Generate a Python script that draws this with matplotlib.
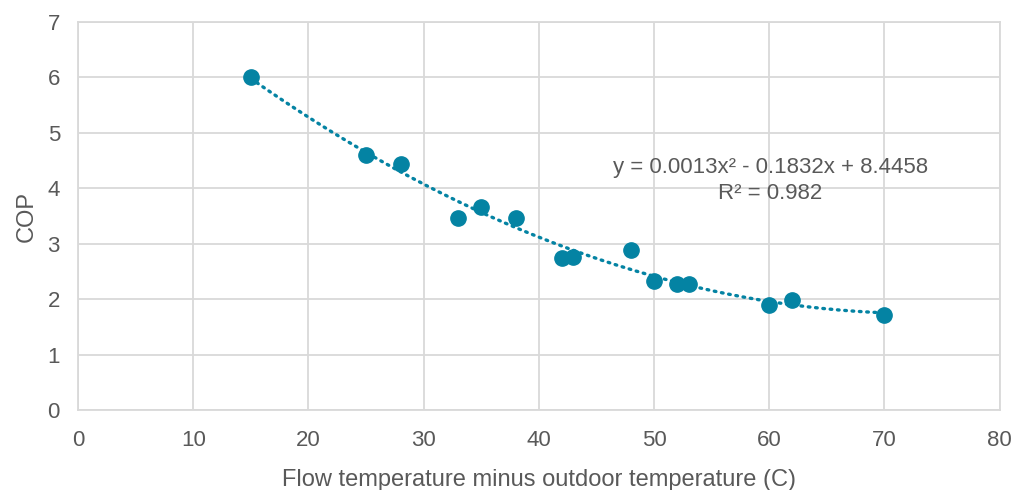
import numpy as np
import matplotlib
matplotlib.use("Agg")
import matplotlib.pyplot as plt

plt.rcParams['font.family'] = ['Liberation Sans', 'DejaVu Sans']

# temperature difference (C) vs measured COP
delta_t = [15, 25, 28, 33, 35, 38, 42, 43, 48, 50, 52, 53, 60, 62, 70]
cop = [6.0, 4.61, 4.44, 3.47, 3.67, 3.47, 2.74, 2.77, 2.88, 2.33, 2.27, 2.27, 1.90, 1.99, 1.71]

eq_text = "y = 0.0013x² - 0.1832x + 8.4458"
r2_text = "R² = 0.982"

TEAL = '#0483A3'
GRID = '#d9d9d9'
TEXT = '#595959'

fig = plt.figure(figsize=(10.16, 4.9), dpi=100)
ax = fig.add_axes([0.0768, 0.163, 0.907, 0.792])

# quadratic trendline through the points
coef = np.polyfit(delta_t, cop, 2)
xs = np.linspace(min(delta_t), max(delta_t), 200)
ax.plot(xs, np.polyval(coef, xs), color=TEAL, lw=2.4, ls=(0, (0.5, 1.7)),
        dash_capstyle='round', zorder=2)
ax.plot(delta_t, cop, 'o', color=TEAL, ms=11, zorder=3)

ax.set_xlim(0, 80)
ax.set_ylim(0, 7)
ax.set_xticks(range(0, 81, 10))
ax.set_yticks(range(0, 8))
ax.grid(True, color=GRID, lw=1.3)
ax.set_axisbelow(True)
for sp in ax.spines.values():
    sp.set_color(GRID)
    sp.set_linewidth(1.3)
ax.tick_params(length=0, labelsize=16, colors=TEXT)
ax.tick_params(axis='x', pad=14)
ax.tick_params(axis='y', pad=13)

ax.set_xlabel("Flow temperature minus outdoor temperature (C)", fontsize=17,
              color=TEXT, labelpad=13)
ax.set_ylabel("COP", fontsize=17, color=TEXT, labelpad=7)

ax.text(60.1, 4.37, eq_text, ha='center', va='center', fontsize=16, color=TEXT)
ax.text(60.1, 3.91, r2_text, ha='center', va='center', fontsize=16, color=TEXT)

fig.savefig("out.png", dpi=100)
